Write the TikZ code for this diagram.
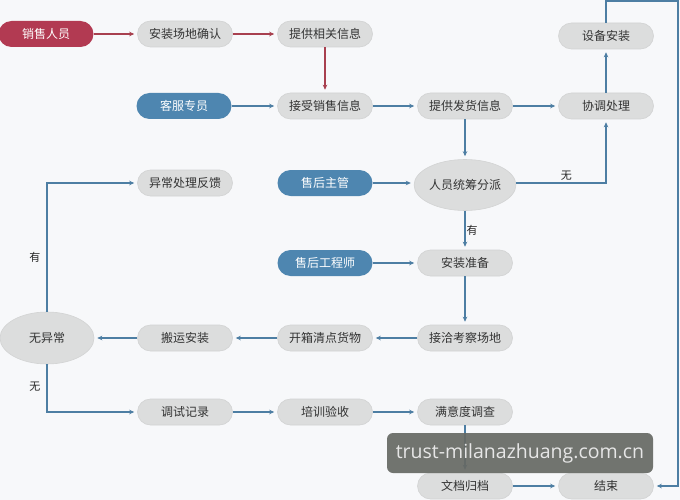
\documentclass[tikz,border=0pt]{standalone}
\usepackage{fontspec}
\newfontfamily\cjk{Noto Sans CJK SC}
\newfontfamily\wmfont{Open Sans}
\usetikzlibrary{arrows.meta,shapes.geometric}
\definecolor{bgc}{HTML}{F7F8FA}
\definecolor{nodegray}{HTML}{DCDDDD}
\definecolor{nodeedge}{HTML}{D2D3D3}
\definecolor{nblue}{HTML}{4E86B0}
\definecolor{nred}{HTML}{B23A52}
\definecolor{lblue}{HTML}{4D7EA3}
\definecolor{lred}{HTML}{A8404F}
\definecolor{txt}{HTML}{333333}
\definecolor{wmgray}{HTML}{666964}
\definecolor{wmtext}{HTML}{E6E6E6}
\begin{document}
\begin{tikzpicture}[x=1pt,y=-1pt,
  box/.style={rounded corners=13pt, minimum width=95pt, minimum height=26pt, inner sep=0pt,
    font=\cjk\fontsize{12}{14}\selectfont, text=txt},
  gbox/.style={box, fill=nodegray, draw=nodeedge, line width=0.6pt},
  bbox/.style={box, fill=nblue, text=white},
  rbox/.style={box, fill=nred, text=white},
  ell/.style={ellipse, fill=nodegray, draw=nodeedge, line width=0.6pt, minimum width=96pt,
    minimum height=51pt, inner sep=0pt, font=\cjk\fontsize{12}{14}\selectfont, text=txt},
  bl/.style={draw=lblue, line width=1.1pt, shorten >=3pt, -{Stealth[length=5pt,width=4.5pt]}},
  rl/.style={draw=lred, line width=1.1pt, shorten >=3pt, -{Stealth[length=5pt,width=4.5pt]}},
  lab/.style={font=\cjk\fontsize{11}{13}\selectfont, text=black!85, inner sep=1pt}
]
\useasboundingbox (0,0) rectangle (680,500);
\fill[bgc] (0,0) rectangle (680,500);

\node[rbox] (sales) at (46,34) {销售人员};
\node[gbox] (site) at (185,34) {安装场地确认};
\node[gbox] (info) at (325,34) {提供相关信息};
\node[bbox] (cs) at (184,106) {客服专员};
\node[gbox] (recv) at (325,106) {接受销售信息};
\node[gbox] (ship) at (465,106) {提供发货信息};
\node[gbox] (coord) at (606,106) {协调处理};
\node[gbox] (equip) at (606,36) {设备安装};
\node[ell] (assign) at (465,185) {人员统筹分派};
\node[bbox] (mgr) at (325,183) {售后主管};
\node[gbox] (fb) at (185,183) {异常处理反馈};
\node[bbox] (eng) at (325,263) {售后工程师};
\node[gbox] (prep) at (465,263) {安装准备};
\node[gbox] (visit) at (465,338) {接洽考察场地};
\node[gbox] (unpack) at (325,338) {开箱清点货物};
\node[gbox] (carry) at (185,338) {搬运安装};
\node[ell, minimum width=94pt, minimum height=52pt] (noab) at (47,338) {无异常};
\node[gbox] (debug) at (185,412) {调试记录};
\node[gbox] (train) at (325,412) {培训验收};
\node[gbox] (survey) at (465,412) {满意度调查};
\node[gbox] (archive) at (465,486) {文档归档};
\node[gbox] (endn) at (606,486) {结束};

\draw[rl] (sales) -- (site);
\draw[rl] (site) -- (info);
\draw[rl] (info) -- (recv);

\draw[bl] (cs) -- (recv);
\draw[bl] (recv) -- (ship);
\draw[bl] (ship) -- (coord);
\draw[bl] (coord) -- (equip);
\draw[bl] (ship) -- (assign);
\draw[bl] (mgr) -- (assign.west |- mgr);
\draw[bl] (assign.east |- mgr) -- node[lab, above=1pt, pos=0.56] {无} (coord.south |- mgr) -- (coord.south);
\draw[bl] (assign) -- node[lab, right] {有} (prep);
\draw[bl] (eng) -- (prep);
\draw[bl] (prep) -- (visit);
\draw[bl] (visit) -- (unpack);
\draw[bl] (unpack) -- (carry);
\draw[bl] (carry) -- (noab);
\draw[bl] (noab.north) |- node[lab, pos=0.21, left=5pt] {有} (fb.west);
\draw[bl] (noab.south) |- node[lab, pos=0.23, left=5pt] {无} (debug.west);
\draw[bl] (debug) -- (train);
\draw[bl] (train) -- (survey);
\draw[bl] (survey) -- (archive);
\draw[bl] (archive) -- (endn);
\coordinate (c1) at (606,1);
\coordinate (c2) at (678,1);
\coordinate (c3) at (678,486);
\draw[bl] (equip.north) -- (c1) -- (c2) -- (c3) -- (endn.east);

\node[fill=wmgray, fill opacity=0.92, text opacity=1, rounded corners=6pt,
  minimum width=266pt, minimum height=40pt, inner sep=0pt, text=wmtext,
  font=\wmfont\fontsize{19.5}{22}\selectfont] (wm) at (520,453) {trust-milanazhuang.com.cn};
\end{tikzpicture}
\end{document}
